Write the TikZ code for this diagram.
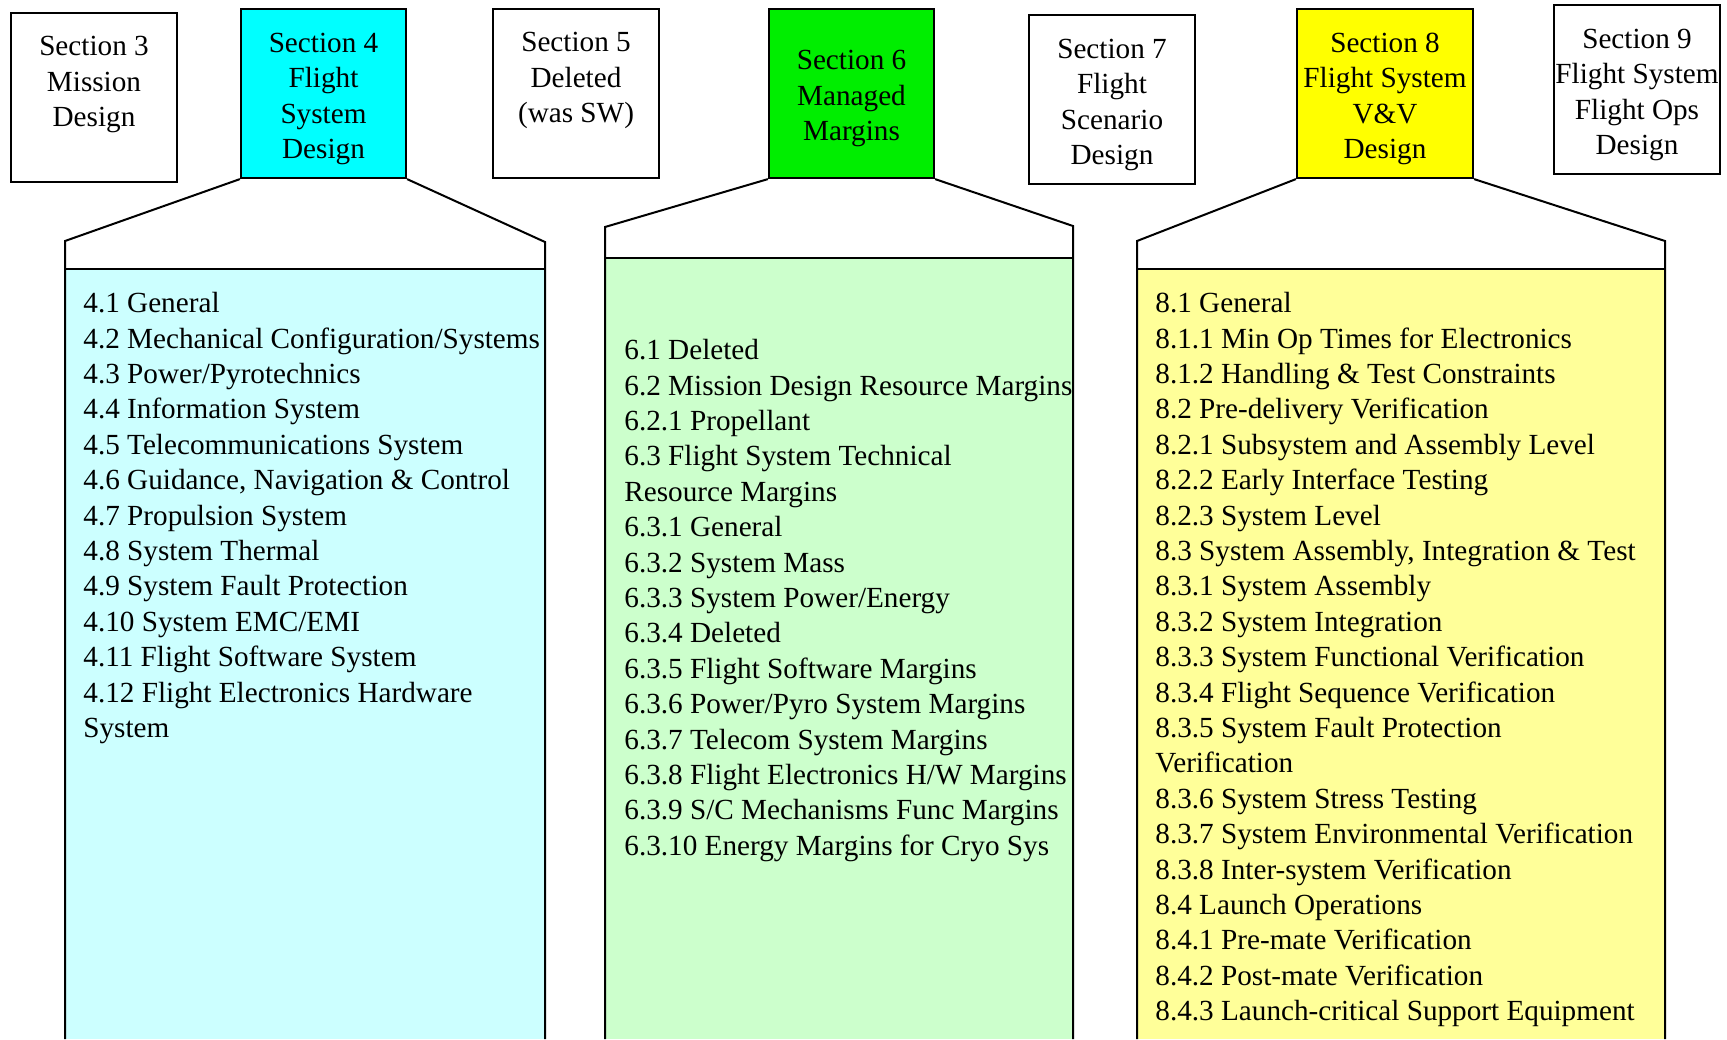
\documentclass[tikz,border=0pt]{standalone}
\usepackage{fontspec}
\setmainfont{Liberation Serif}
\usepackage{tikz}
\usetikzlibrary{positioning}

\definecolor{secfour}{HTML}{00FFFF}
\definecolor{secsix}{HTML}{00EE00}
\definecolor{seceight}{HTML}{FFFF00}
\definecolor{panelfour}{HTML}{CCFFFF}
\definecolor{panelsix}{HTML}{CCFFCC}
\definecolor{paneleight}{HTML}{FFFF99}

% raises the first line of a section box a little
\newcommand{\secgap}{\rule{0pt}{15pt}}

\tikzset{
  secbox/.style={draw, line width=1.1pt, minimum width=83pt, minimum height=84.5pt,
    align=center, inner sep=0pt, font=\fontsize{14.6}{17.7}\selectfont},
  panelside/.style={line width=1pt},
  paneltext/.style={anchor=north west, align=left, inner sep=0pt,
    font=\fontsize{14.6}{17.7}\selectfont}
}

\begin{document}
\begin{tikzpicture}[x=0.5pt, y=-0.5pt]
        \useasboundingbox (0, 0) rectangle (1727, 1039);

        % section boxes
        \node [secbox] (s3) at (94, 97.5)
          {\secgap Section 3\\Mission\\Design\\\rule[-3.5pt]{0pt}{3.5pt}};
        \node [secbox, fill=secfour, minimum width=82.5pt] (s4) at (323.5, 93.5)
          {\secgap Section 4\\Flight\\System\\Design};
        \node [secbox] (s5) at (576, 93.5)
          {\secgap Section 5\\Deleted\\(was SW)\\\rule[-3.5pt]{0pt}{3.5pt}};
        \node [secbox, fill=secsix, minimum width=82.5pt] (s6) at (851.5, 93.5)
          {\secgap Section 6\\Managed\\Margins};
        \node [secbox] (s7) at (1112, 99.5)
          {\secgap Section 7\\Flight\\Scenario\\Design};
        \node [secbox, fill=seceight, minimum width=88pt] (s8) at (1385, 93.5)
          {\secgap Section 8\\Flight System\\V\&V\\Design};
        \node [secbox] (s9) at (1637, 89.5)
          {\secgap Section 9\\Flight System\\Flight Ops\\Design};

        % panel 4
        \coordinate (p4l) at (65, 241);
        \coordinate (p4r) at (545, 242);
        \fill [panelfour] (65, 269) rectangle (545, 1039);
        \draw [panelside] (s4.south west) -- (p4l) -- (65, 1039);
        \draw [panelside] (s4.south east) -- (p4r) -- (545, 1039);
        \draw [panelside] (65, 269) -- (545, 269);

        % panel 6
        \coordinate (p6l) at (605, 227);
        \coordinate (p6r) at (1073, 226);
        \fill [panelsix] (605, 258) rectangle (1073, 1039);
        \draw [panelside] (s6.south west) -- (p6l) -- (605, 1039);
        \draw [panelside] (s6.south east) -- (p6r) -- (1073, 1039);
        \draw [panelside] (605, 258) -- (1073, 258);

        % panel 8
        \coordinate (p8l) at (1137, 241);
        \coordinate (p8r) at (1665, 241);
        \fill [paneleight] (1137, 269) rectangle (1665, 1039);
        \draw [panelside] (s8.south west) -- (p8l) -- (1137, 1039);
        \draw [panelside] (s8.south east) -- (p8r) -- (1665, 1039);
        \draw [panelside] (1137, 269) -- (1665, 269);

        % panel texts
        \node [paneltext] (t4) at (83, 292) {4.1 General\\
          4.2 Mechanical Configuration/Systems\\
          4.3 Power/Pyrotechnics\\
          4.4 Information System\\
          4.5 Telecommunications System\\
          4.6 Guidance, Navigation \& Control\\
          4.7 Propulsion System\\
          4.8 System Thermal\\
          4.9 System Fault Protection\\
          4.10 System EMC/EMI\\
          4.11 Flight Software System\\
          4.12 Flight Electronics Hardware\\
          System};

        \node [paneltext] (t6) at (624, 339) {6.1 Deleted\\
          6.2 Mission Design Resource Margins\\
          6.2.1 Propellant\\
          6.3 Flight System Technical\\
          Resource Margins\\
          6.3.1 General\\
          6.3.2 System Mass\\
          6.3.3 System Power/Energy\\
          6.3.4 Deleted\\
          6.3.5 Flight Software Margins\\
          6.3.6 Power/Pyro System Margins\\
          6.3.7 Telecom System Margins\\
          6.3.8 Flight Electronics H/W Margins\\
          6.3.9 S/C Mechanisms Func Margins\\
          6.3.10 Energy Margins for Cryo Sys};

        \node [paneltext] (t8) at (1155, 292) {8.1 General\\
          8.1.1 Min Op Times for Electronics\\
          8.1.2 Handling \& Test Constraints\\
          8.2 Pre-delivery Verification\\
          8.2.1 Subsystem and Assembly Level\\
          8.2.2 Early Interface Testing\\
          8.2.3 System Level\\
          8.3 System Assembly, Integration \& Test\\
          8.3.1 System Assembly\\
          8.3.2 System Integration\\
          8.3.3 System Functional Verification\\
          8.3.4 Flight Sequence Verification\\
          8.3.5 System Fault Protection\\
          Verification\\
          8.3.6 System Stress Testing\\
          8.3.7 System Environmental Verification\\
          8.3.8 Inter-system Verification\\
          8.4 Launch Operations\\
          8.4.1 Pre-mate Verification\\
          8.4.2 Post-mate Verification\\
          8.4.3 Launch-critical Support Equipment};

      \end{tikzpicture}
\end{document}
